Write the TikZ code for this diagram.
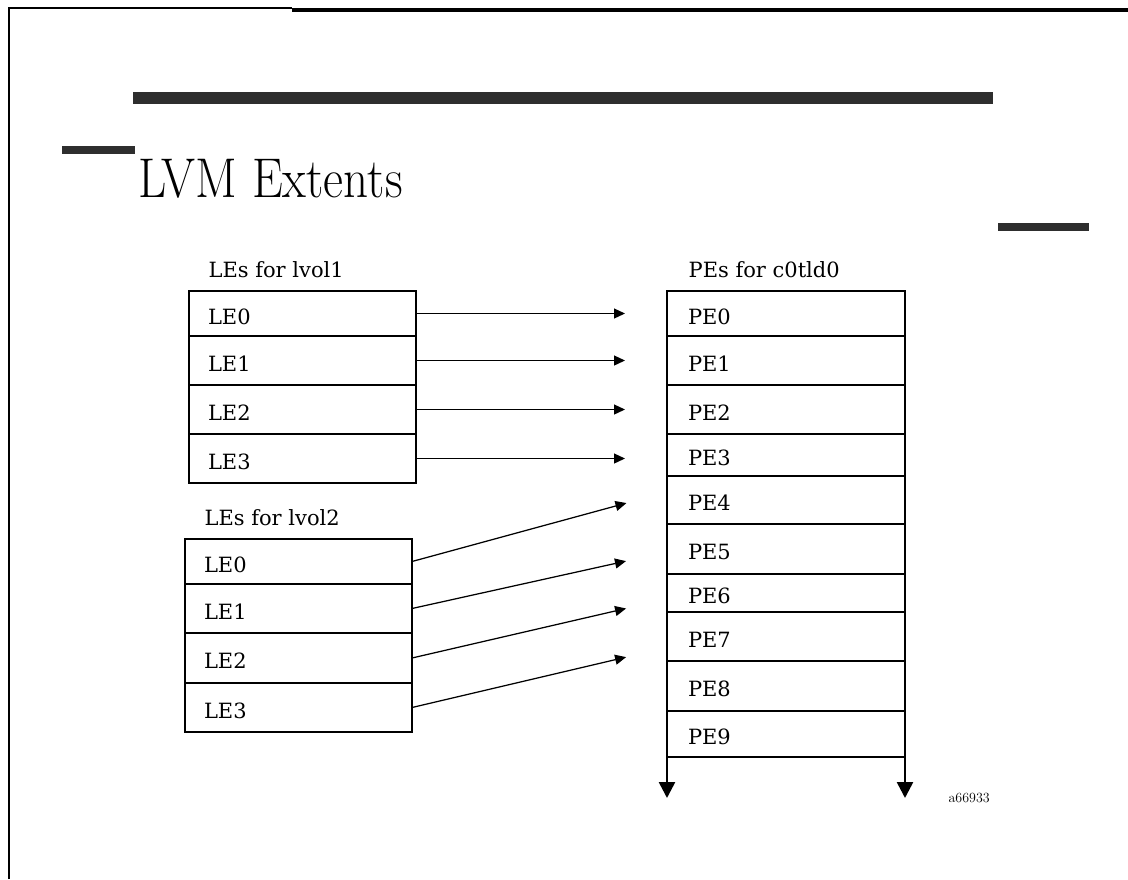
\documentclass[tikz,border=0pt]{standalone}
\usepackage{fontspec}
\newfontfamily\rowfont{DejaVu Serif}
\usetikzlibrary{arrows.meta,positioning}

\tikzset{
  bar/.style={fill=black!82, draw=none},
  lerow/.style={draw, outer sep=0pt, inner ysep=0pt, inner xsep=19pt, text width=189pt,
    align=left, text height=21pt, text depth=0pt, font=\rowfont\fontsize{21}{24}\selectfont},
  perow/.style={lerow, inner xsep=21pt, text width=196pt},
  heading/.style={anchor=base west, inner sep=0pt, font=\rowfont\fontsize{21}{24}\selectfont},
  map/.style={-{Triangle[length=11pt,width=10pt]}, shorten >=42pt},
  moreext/.style={line width=2.6pt, -{Triangle[length=16pt,width=16pt]}}
}

\begin{document}
\begin{tikzpicture}[x=1pt, y=-1pt, line width=1.25pt]
  \useasboundingbox (0,0) rectangle (1128,879);

  \draw[line width=1.5pt] (9,879) -- (9,8) -- (292,8);
  \fill (292,8) rectangle (1128,12);
  \fill[bar] (133,92) rectangle (993,104);
  \fill[bar] (62,146) rectangle (135,154);
  \fill[bar] (998,223) rectangle (1089,231);

  \node[anchor=base west, inner sep=0pt, xscale=0.875, font=\fontsize{56}{60}\selectfont] (title) at (138,197) {LVM Extents};

  \node[heading] (lv1) at (208,277) {LEs for lvol1};
  \node[lerow, minimum height=45pt, anchor=north west] (la0) at (189,291) {LE0};
  \node[lerow, minimum height=49pt, below=0pt of la0] (la1) {LE1};
  \node[lerow, minimum height=49pt, below=0pt of la1] (la2) {LE2};
  \node[lerow, minimum height=49pt, below=0pt of la2] (la3) {LE3};

  \node[heading] (lv2) at (204,525) {LEs for lvol2};
  \node[lerow, minimum height=45pt, anchor=north west] (lb0) at (185,539) {LE0};
  \node[lerow, minimum height=49pt, below=0pt of lb0] (lb1) {LE1};
  \node[lerow, minimum height=50pt, below=0pt of lb1] (lb2) {LE2};
  \node[lerow, minimum height=49pt, below=0pt of lb2] (lb3) {LE3};

  \node[heading] (disk) at (688,277) {PEs for c0tld0};
  \node[perow, minimum height=45pt, anchor=north west] (pe0) at (667,291) {PE0};
  \node[perow, minimum height=49pt, below=0pt of pe0] (pe1) {PE1};
  \node[perow, minimum height=49pt, below=0pt of pe1] (pe2) {PE2};
  \node[perow, minimum height=42pt, below=0pt of pe2] (pe3) {PE3};
  \node[perow, minimum height=48pt, below=0pt of pe3] (pe4) {PE4};
  \node[perow, minimum height=50pt, below=0pt of pe4] (pe5) {PE5};
  \node[perow, minimum height=38pt, below=0pt of pe5] (pe6) {PE6};
  \node[perow, minimum height=49pt, below=0pt of pe6] (pe7) {PE7};
  \node[perow, minimum height=50pt, below=0pt of pe7] (pe8) {PE8};
  \node[perow, minimum height=46pt, below=0pt of pe8] (pe9) {PE9};

  \draw[map] (la0.east) -- (la0.east -| pe0.west);
  \draw[map] (la1.east) -- (la1.east -| pe1.west);
  \draw[map] (la2.east) -- (la2.east -| pe2.west);
  \draw[map] (la3.east) -- (la3.east -| pe3.west);

  \draw[map] (lb0.east) -- ([yshift=8pt]pe4.west);
  \draw[map] (lb1.east) -- ([yshift=-3pt]pe5.west);
  \draw[map] (lb2.east) -- ([yshift=-6pt]pe6.west);
  \draw[map] (lb3.east) -- ([yshift=-11pt]pe7.west);

  \coordinate[below=41pt of pe9.south west] (gl);
  \coordinate[below=41pt of pe9.south east] (gr);
  \draw[moreext] (pe9.south west) -- (gl);
  \draw[moreext] (pe9.south east) -- (gr);

  \node[anchor=base west, inner sep=0pt, font=\fontsize{14}{16}\selectfont] (tag) at (948,802) {a66933};
\end{tikzpicture}
\end{document}
